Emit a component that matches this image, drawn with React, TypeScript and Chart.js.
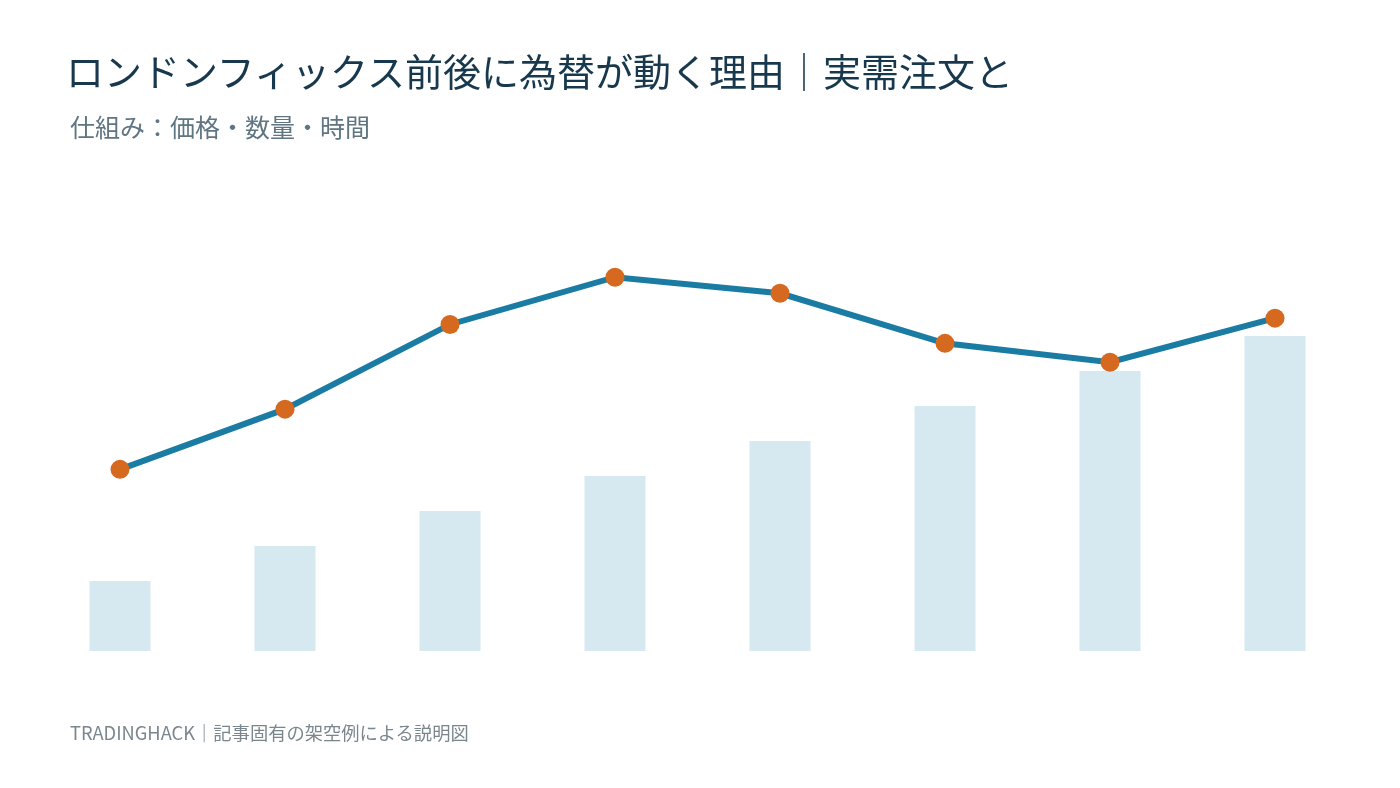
import { useEffect, useRef } from 'react'
import { Chart, registerables } from 'chart.js'

Chart.register(...registerables)

const categories = ['1', '2', '3', '4', '5', '6', '7', '8']
const volumeValues = [2, 3, 4, 5, 6, 7, 8, 9]
const priceValues = [5.19, 6.91, 9.33, 10.68, 10.22, 8.79, 8.25, 9.51]

const FONT = '"Noto Sans CJK JP", "Noto Sans", sans-serif'

export default function App() {
  const chartRef = useRef<HTMLCanvasElement>(null)
  const chartInstance = useRef<Chart | null>(null)

  useEffect(() => {
    document.body.style.margin = '0'
    if (!chartRef.current) return
    if (chartInstance.current) chartInstance.current.destroy()
    const ctx = chartRef.current.getContext('2d')
    if (!ctx) return

    chartInstance.current = new Chart(ctx, {
      type: 'bar',
      data: {
        labels: categories,
        datasets: [
          {
            type: 'line',
            label: '価格',
            data: priceValues,
            borderColor: '#1a7ba3',
            borderWidth: 6,
            pointBackgroundColor: '#d4691f',
            pointBorderWidth: 0,
            pointRadius: 9.5,
            tension: 0,
            order: 0,
          },
          {
            type: 'bar',
            label: '数量',
            data: volumeValues,
            backgroundColor: '#d7e9f0',
            barPercentage: 0.74,
            categoryPercentage: 0.5,
            order: 1,
          },
        ],
      },
      options: {
        responsive: false,
        animation: false,
        layout: {
          padding: { left: 37.5, right: 42.5, top: 161, bottom: 137 },
        },
        plugins: {
          legend: { display: false },
          tooltip: { enabled: false },
        },
        scales: {
          x: { display: false, offset: true },
          y: { display: false, min: 0, max: 14 },
        },
      },
    })

    return () => {
      if (chartInstance.current) chartInstance.current.destroy()
    }
  }, [])

  return (
    <div style={{ position: 'relative', width: 1400, height: 788, background: '#fff', fontFamily: FONT }}>
      <canvas ref={chartRef} width={1400} height={788} style={{ position: 'absolute', left: 0, top: 0 }} />
      <div style={{ position: 'absolute', left: 66, top: 42, fontSize: 38, color: '#17384d', whiteSpace: 'nowrap' }}>
        ロンドンフィックス前後に為替が動く理由｜実需注文と
      </div>
      <div style={{ position: 'absolute', left: 70, top: 108, fontSize: 25, color: '#5f7582', whiteSpace: 'nowrap' }}>
        仕組み：価格・数量・時間
      </div>
      <div style={{ position: 'absolute', left: 70, top: 719, fontSize: 18.3, color: '#7a868e', whiteSpace: 'nowrap' }}>
        TRADINGHACK｜記事固有の架空例による説明図
      </div>
    </div>
  )
}
